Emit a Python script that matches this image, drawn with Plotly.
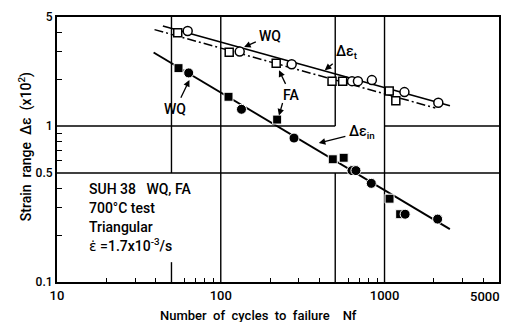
import numpy as np
import plotly.graph_objects as go

# ---- data ----
# total strain range, WQ (open circles) and FA (open squares)
wq_t_N = [62.8, 130.5, 271, 633, 688, 837, 1323, 2130]
wq_t_e = [4.07, 3.00, 2.49, 1.94, 1.94, 1.97, 1.65, 1.41]
fa_t_N = [54.6, 112.6, 218, 478, 555, 1068, 1172]
fa_t_e = [3.96, 2.97, 2.53, 1.94, 1.94, 1.68, 1.45]
# inelastic strain range, WQ (filled circles) and FA (filled squares)
wq_in_N = [63.7, 133.8, 280, 633, 669, 830, 1336, 2109]
wq_in_e = [2.19, 1.28, 0.837, 0.518, 0.518, 0.429, 0.272, 0.253]
fa_in_N = [55.2, 111.5, 221, 483, 563, 1073, 1246]
fa_in_e = [2.35, 1.54, 1.10, 0.612, 0.626, 0.342, 0.272]
# fitted lines (end points)
wq_t_line_N = [44.3, 2508]
wq_t_line_e = [4.38, 1.348]
fa_t_line_N = [39.4, 2042]
fa_t_line_e = [4.15, 1.305]
in_line_N = [38.9, 2506]
in_line_e = [2.96, 0.2185]

x_tick_vals = [10, 100, 1000]
x_tick_text = ["10", "100", "1000"]
x_minor = [20, 30, 40, 60, 70, 80, 90, 200, 300, 400, 600, 700, 800, 900, 2000, 3000, 4000]
y_tick_vals = [0.1, 0.5, 1, 5]
y_tick_text = ["0.1", "0.5", "1", "5"]
y_minor = [0.2, 0.3, 0.4, 0.6, 0.7, 0.8, 0.9, 2, 3, 4]

# grid segments (x0, x1, y0, y1) in data units
grid_segments = [
    (50, 50, 0.5, 5), (50, 50, 0.1, 0.134),
    (100, 100, 0.1, 5),
    (500, 500, 1, 5), (500, 500, 0.1, 0.5),
    (1000, 1000, 0.1, 5),
    (10, 500, 1, 1), (1000, 5000, 1, 1),
    (10, 5000, 0.5, 0.5),
]

FONT = "Roboto"
WEIGHT = 500
L, R, T, B = 57, 10, 13, 40
W, H = 511, 322
PW, PH = W - L - R, H - T - B


def P(px, py):
    return (px - L) / PW, (H - B - py) / PH


def font(size):
    return dict(family=FONT, size=size, color="black", weight=WEIGHT)


fig = go.Figure()

for x0, x1, y0, y1 in grid_segments:
    fig.add_trace(go.Scatter(x=[x0, x1], y=[y0, y1], mode="lines",
                             line=dict(color="black", width=1.4),
                             hoverinfo="skip", showlegend=False))

fig.add_trace(go.Scatter(x=wq_t_line_N, y=wq_t_line_e, mode="lines",
                         line=dict(color="black", width=1.7), showlegend=False))
fig.add_trace(go.Scatter(x=fa_t_line_N, y=fa_t_line_e, mode="lines",
                         line=dict(color="black", width=1.5, dash="9px,3px,2px,3px"),
                         showlegend=False))
fig.add_trace(go.Scatter(x=in_line_N, y=in_line_e, mode="lines",
                         line=dict(color="black", width=2), showlegend=False))

fig.add_trace(go.Scatter(x=fa_t_N, y=fa_t_e, mode="markers",
                         marker=dict(symbol="square", size=8, color="white",
                                     line=dict(color="black", width=1.5)),
                         showlegend=False))
fig.add_trace(go.Scatter(x=wq_t_N, y=wq_t_e, mode="markers",
                         marker=dict(symbol="circle", size=9, color="white",
                                     line=dict(color="black", width=1.5)),
                         showlegend=False))
fig.add_trace(go.Scatter(x=fa_in_N, y=fa_in_e, mode="markers",
                         marker=dict(symbol="square", size=9, color="black",
                                     line=dict(color="white", width=1)),
                         showlegend=False))
fig.add_trace(go.Scatter(x=wq_in_N, y=wq_in_e, mode="markers",
                         marker=dict(symbol="circle", size=10, color="black",
                                     line=dict(color="white", width=1)),
                         showlegend=False))

ann = []


def text(px, py, s, size=14, xanchor="center", head=None):
    x, y = P(px, py)
    a = dict(x=x, y=y, xref="paper", yref="paper", text=s, showarrow=False,
             xanchor=xanchor, yanchor="middle", font=font(size))
    if head is not None:
        hx, hy = P(*head)
        a.update(x=hx, y=hy, ax=px - head[0], ay=py - head[1], showarrow=True,
                 arrowhead=2, arrowsize=1, arrowwidth=1.3, arrowcolor="black",
                 standoff=0, startstandoff=2)
        a.pop("xanchor")
        a.pop("yanchor")
    ann.append(a)


def arrow(px0, py0, px1, py1):
    x, y = P(px1, py1)
    ann.append(dict(x=x, y=y, xref="paper", yref="paper", text="", showarrow=True,
                    ax=px0 - px1, ay=py0 - py1, arrowhead=2, arrowsize=1,
                    arrowwidth=1.3, arrowcolor="black"))


text(271, 32, "WQ", head=(245, 43.5))
text(176, 106, "WQ", head=(190, 77))
text(348, 49, "Δε<sub>t</sub>", head=(326, 67))
text(292, 92, "FA", head=(280, 67))
arrow(284, 99, 280, 113)
text(363, 130, "Δε<sub>in</sub>", head=(320, 141))

text(87, 188, "SUH 38   WQ, FA", xanchor="left")
text(87, 207, "700°C test", xanchor="left")
text(87, 226, "Triangular", xanchor="left")
text(87, 244, "<span style=\"font-family:'DejaVu Sans'\">ε̇</span> =1.7x10<sup>-3</sup>/s",
     xanchor="left")

text(487, 297, "5000", size=13)
text(259, 316, "Number  of  cycles  to  failure    Nf", size=13)

x, y = P(25, 145)
ann.append(dict(x=x, y=y, xref="paper", yref="paper",
                text="Strain  range  Δε  (x10<sup>2</sup>)",
                showarrow=False, textangle=-90, xanchor="center", yanchor="middle",
                font=font(14)))

fig.update_layout(
    width=W, height=H, margin=dict(l=L, r=R, t=T, b=B),
    plot_bgcolor="white", paper_bgcolor="white",
    annotations=ann,
    xaxis=dict(type="log", range=[1, np.log10(5000)], showgrid=False, zeroline=False,
               showline=True, mirror=True, linecolor="black", linewidth=2,
               tickmode="array", tickvals=x_tick_vals, ticktext=x_tick_text,
               ticks="", tickfont=font(13),
               minor=dict(tickmode="array", tickvals=x_minor, ticks="inside", ticklen=4,
                          tickwidth=1.4, tickcolor="black", showgrid=False)),
    yaxis=dict(type="log", range=[-1, np.log10(5)], showgrid=False, zeroline=False,
               showline=True, mirror=True, linecolor="black", linewidth=2,
               tickmode="array", tickvals=y_tick_vals, ticktext=y_tick_text,
               ticks="", tickfont=font(12),
               minor=dict(tickmode="array", tickvals=y_minor, ticks="inside", ticklen=5,
                          tickwidth=1.4, tickcolor="black", showgrid=False)),
)

fig.write_html("out.html")
